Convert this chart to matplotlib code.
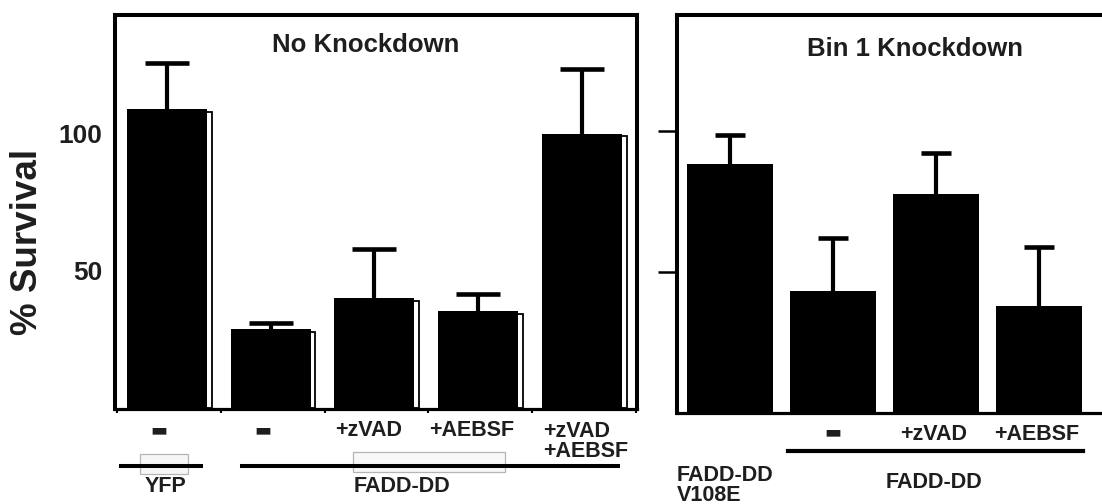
import matplotlib
matplotlib.use("Agg")
import matplotlib.pyplot as plt
import matplotlib.transforms as mtransforms
from matplotlib.patches import Rectangle
from matplotlib.lines import Line2D
import numpy as np

# ---------------- data ----------------
left_title = "No Knockdown"
left_labels = ["▬", "▬", "+zVAD", "+AEBSF", "+zVAD\n+AEBSF"]
left_values = [108.8, 28.6, 39.9, 35.2, 100.0]
left_err_top = [125.6, 30.8, 57.9, 41.4, 123.4]

right_title = "Bin 1 Knockdown"
right_labels = ["", "▬", "+zVAD", "+AEBSF"]
right_values = [88.3, 43.3, 77.7, 37.9]
right_err_top = [98.9, 62.1, 92.2, 58.9]

y_ticks = [50, 100]
y_tick_labels = ["50", "100"]
y_label = "% Survival"

# ---------------- figure ----------------
W, H = 1102, 504
plt.rcParams['font.family'] = ['Liberation Sans', 'DejaVu Sans']
fig = plt.figure(figsize=(W / 100, H / 100), dpi=100)
fig.patch.set_facecolor('white')
TXT = '#1e1e1e'

# pixel transform (y measured from top of image)
pix = mtransforms.Affine2D().scale(1 / W, -1 / H).translate(0, 1) + fig.transFigure

def fig_rect(x0, y0, x1, y1):
    return [x0 / W, 1 - y1 / H, (x1 - x0) / W, (y1 - y0) / H]

axL = fig.add_axes(fig_rect(115, 15, 637, 409))
axR = fig.add_axes(fig_rect(677, 15, 1102, 413))

def upper_errorbars(ax, x, v, top, capsize):
    e = np.asarray(top) - v
    _, caps, _ = ax.errorbar(x, v, yerr=[np.zeros_like(e), e], fmt='none', ecolor='black',
                             elinewidth=3.0, capsize=capsize, capthick=3.3, zorder=3)
    if len(caps) == 2:
        caps[0].set_visible(False)

# ---------------- left panel ----------------
xl = np.arange(len(left_values))
vl = np.array(left_values)
wl = 0.77
axL.bar(xl - 0.02, vl, width=wl, color='black', zorder=2)
axL.bar(xl + 0.025, vl - 0.8, width=wl, fill=False, edgecolor='black', linewidth=1.3, zorder=2)
upper_errorbars(axL, xl - 0.02, vl, left_err_top, 16)
axL.set_xlim(-0.52, 4.51)
axL.set_ylim(-0.4, 143.2)
for s in axL.spines.values():
    s.set_linewidth(2.9)
    s.set_color('black')
axL.spines['bottom'].set_linewidth(2.3)
axL.set_xticks(np.arange(-0.5, 4.6, 1.0))
axL.set_xticklabels([])
axL.tick_params(axis='x', direction='out', length=3, width=1.5, color='black')
axL.set_yticks(y_ticks)
axL.set_yticklabels(y_tick_labels, fontsize=19, fontweight='bold', color=TXT)
axL.tick_params(axis='y', length=0, pad=9)
axL.text(0.48, 0.925, left_title, transform=axL.transAxes, ha='center', va='center',
         fontsize=18.5, fontweight='bold', color=TXT)

blL = mtransforms.blended_transform_factory(axL.transData, pix)
for i, lab in enumerate(left_labels):
    if lab == "▬":
        axL.text(i - 0.1, 430, lab, transform=blL, ha='center', va='center',
                 fontsize=13, family='DejaVu Sans', color=TXT, clip_on=False)
    elif "\n" in lab:
        axL.text(i + 0.02, 421, lab, transform=blL, ha='center', va='top',
                 fontsize=15.5, fontweight='bold', color=TXT, linespacing=0.95,
                 multialignment='left', clip_on=False)
    else:
        axL.text(i - 0.08, 430, lab, transform=blL, ha='center', va='center',
                 fontsize=15.5, fontweight='bold', color=TXT, clip_on=False)

# ---------------- right panel ----------------
xr = np.arange(len(right_values))
vr = np.array(right_values)
wr = 0.84
axR.bar(xr, vr, width=wr, color='black', zorder=2)
upper_errorbars(axR, xr, vr, right_err_top, 11)
axR.set_xlim(-0.515, 3.61)
axR.set_ylim(-0.35, 141.5)
for s in axR.spines.values():
    s.set_linewidth(2.9)
    s.set_color('black')
axR.spines['right'].set_visible(False)
axR.spines['bottom'].set_linewidth(2.3)
axR.set_xticks([])
axR.set_yticks(y_ticks)
axR.set_yticklabels([])
axR.tick_params(axis='y', direction='out', length=14, width=1.8, color='black')
axR.text(0.56, 0.915, right_title, transform=axR.transAxes, ha='center', va='center',
         fontsize=18.5, fontweight='bold', color=TXT)

blR = mtransforms.blended_transform_factory(axR.transData, pix)
for i, lab in enumerate(right_labels):
    if not lab:
        continue
    if lab == "▬":
        axR.text(i, 432, lab, transform=blR, ha='center', va='center',
                 fontsize=13, family='DejaVu Sans', color=TXT, clip_on=False)
    else:
        axR.text(i - 0.02, 434, lab, transform=blR, ha='center', va='center',
                 fontsize=15.5, fontweight='bold', color=TXT, clip_on=False)

# ---------------- group annotations (image pixel coordinates) ----------------
# faint boxes (scan artefacts)
fig.add_artist(Rectangle((140, 474), 48, -20, transform=pix, facecolor='#f6f6f6',
                         edgecolor='#b5b5b5', linewidth=0.9, zorder=1))
fig.add_artist(Rectangle((353, 472), 152, -20, transform=pix, facecolor='#f8f8f8',
                         edgecolor='#b5b5b5', linewidth=0.9, zorder=1))
# group lines
fig.add_artist(Line2D([121, 201], [466, 466], transform=pix, color='black', linewidth=2.9, zorder=2))
fig.add_artist(Line2D([242, 618], [466, 466], transform=pix, color='black', linewidth=2.9, zorder=2))
fig.add_artist(Line2D([788, 1083], [451, 451], transform=pix, color='black', linewidth=3.0, zorder=2))

fig.text(166, 486, "YFP", transform=pix, ha='center', va='center', fontsize=15.5,
         fontweight='bold', color=TXT)
fig.text(402, 486, "FADD-DD", transform=pix, ha='center', va='center', fontsize=15.5,
         fontweight='bold', color=TXT)
fig.text(934, 483, "FADD-DD", transform=pix, ha='center', va='center', fontsize=15.5,
         fontweight='bold', color=TXT)
fig.text(677, 465, "FADD-DD\nV108E", transform=pix, ha='left', va='top', fontsize=15.5,
         fontweight='bold', color=TXT, linespacing=0.95)

fig.text(28, 242, y_label, transform=pix, ha='center', va='center', rotation=90,
         fontsize=26.5, fontweight='bold', color=TXT)

fig.savefig("out.png", dpi=100, facecolor='white')
